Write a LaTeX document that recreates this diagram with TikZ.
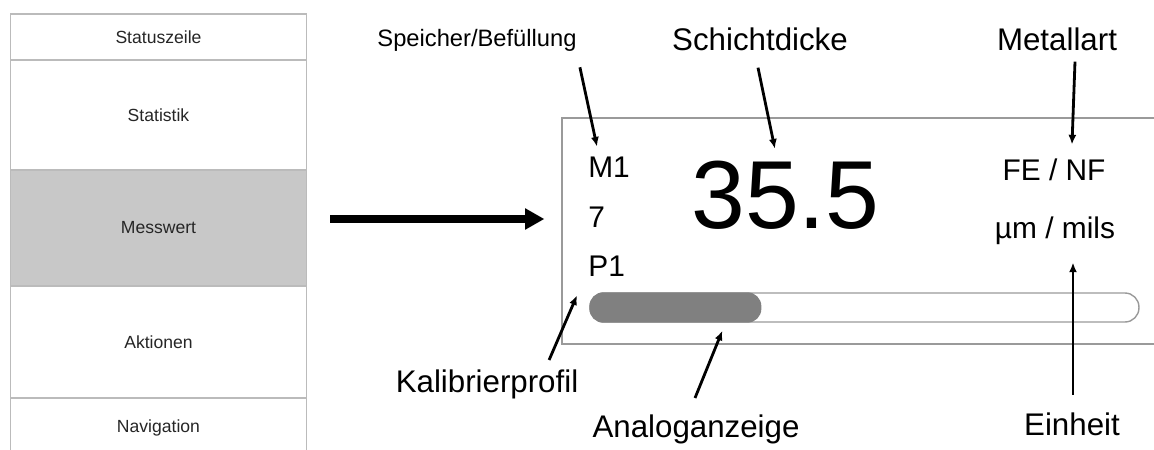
\documentclass[tikz,border=0pt]{standalone}
\usepackage{fontspec}
\setmainfont{Liberation Sans}
\usetikzlibrary{arrows.meta}
\definecolor{cellline}{HTML}{BBBBBB}
\definecolor{cellgray}{HTML}{C8C8C8}
\definecolor{panelline}{HTML}{9A9A9A}
\definecolor{barfill}{HTML}{808080}
\tikzset{
  cell/.style={draw=cellline, line width=0.6pt, minimum width=5.94cm, inner sep=0pt, font=\fontsize{10}{12}\selectfont, text=black!85},
  lbl/.style={anchor=base, inner sep=0pt, font=\fontsize{17.8}{20}\selectfont},
  disp/.style={anchor=base west, inner sep=0pt, font=\fontsize{17}{20}\selectfont},
  callout/.style={line width=1.6pt, -{Latex[length=5.5pt,width=4.6pt]}},
  bigarrow/.style={line width=5pt, -{Triangle[length=11pt,width=11.5pt]}}
}

\begin{document}
\begin{tikzpicture}[x=0.02cm, y=-0.02cm]
\clip (0,0) rectangle (1154,450);
\fill[white] (0,0) rectangle (1154,450);

% screen layout
\foreach \nm/\lbltext/\yc/\hh/\cellfill in {zeile/Statuszeile/37/0.92/white, statistik/Statistik/115/2.2/white, messwert/Messwert/228/2.32/cellgray, aktionen/Aktionen/342/2.24/white, navigation/Navigation/428/1.2/white}
  \node[cell, fill=\cellfill, minimum height=\hh cm] (\nm) at (158.5,\yc) {\lbltext};

% measurement display
\node[draw=panelline, line width=0.8pt, minimum width=12.16cm, minimum height=4.52cm, inner sep=0pt] (panel) at (866,231) {};
\node[disp] (mone) at (588,177) {M1};
\node[disp] (seven) at (588,227) {7};
\node[disp] (pone) at (588,276) {P1};
\node[anchor=base west, inner sep=0pt, font=\fontsize{55}{60}\selectfont] (value) at (691,228) {35.5};
\node[disp, anchor=base] (metal) at (1054,180) {FE / NF};
\node[disp, anchor=base] (unit) at (1055,238) {µm / mils};

% analog bar
\node[draw=panelline, line width=0.8pt, rounded corners=0.28cm, minimum width=10.98cm, minimum height=0.58cm, inner sep=0pt] (bar) at (864.5,307.5) {};
\fill[barfill, rounded corners=0.28cm] (bar.north west) rectangle ([shift={(172,0)}]bar.south west);

% labels
\node[lbl, font=\fontsize{13.5}{16}\selectfont] (speicher) at (477,46) {Speicher/Befüllung};
\node[lbl] (schicht) at (760,50) {Schichtdicke};
\node[lbl] (metallart) at (1057,50) {Metallart};
\node[lbl] (kalib) at (487,392) {Kalibrierprofil};
\node[lbl] (analog) at (696,437) {Analoganzeige};
\node[lbl] (einheit) at (1072,435) {Einheit};

\draw[bigarrow] ([shift={(23,-9)}]messwert.east) -- ([shift={(-17,-12)}]panel.west);
\draw[callout] ([shift={(3,16)}]speicher.south east) -- ([shift={(9,-9.5)}]mone.north west);
\draw[callout] ([shift={(-2,17)}]schicht.south) -- ([shift={(-10.5,-11.5)}]value.north);
\draw[callout] ([shift={(18,11)}]metallart.south) -- ([shift={(18,-13.5)}]metal.north);
\draw[callout] ([shift={(-29.5,-9)}]kalib.north east) -- ([shift={(-11,19)}]pone.south west);
\draw[callout] ([shift={(-1,-16)}]analog.north) -- ([shift={(133,8)}]bar.south west);
\draw[callout] ([shift={(1,-17)}]einheit.north) -- ([shift={(18,18)}]unit.south);
\end{tikzpicture}
\end{document}
